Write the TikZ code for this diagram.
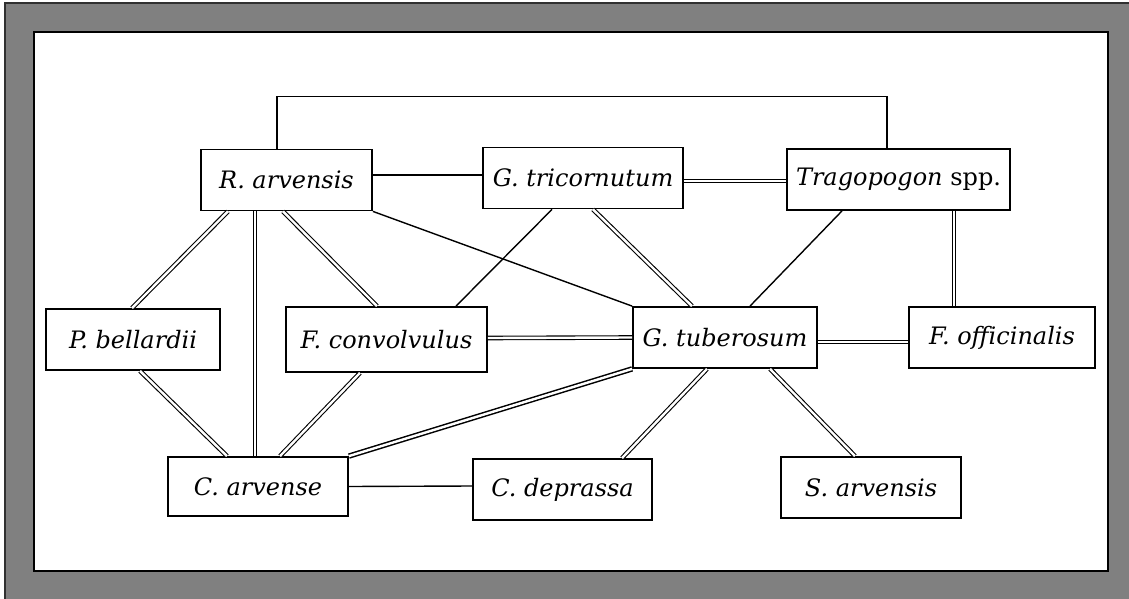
\documentclass[tikz,border=0pt]{standalone}
\usepackage{fontspec}
\setmainfont{DejaVu Serif}
\definecolor{framegray}{HTML}{808080}
\definecolor{frameedge}{HTML}{303030}

\begin{document}
\begin{tikzpicture}[
  x=0.5pt, y=-0.5pt,
  taxon/.style={rectangle, draw=black, line width=0.9pt, fill=white,
    minimum height=30.5pt, inner sep=0.5pt, font=\fontsize{12}{14}\selectfont},
  link/.style={line width=0.7pt},
  duallink/.style={double, double distance=1.2pt, line width=0.55pt}
]
\useasboundingbox (0,0) rectangle (1129,599);
% frame
\fill[framegray] (5,3) rectangle (1129,599);
\draw[frameedge, line width=1pt] (5,599) -- (5,3) -- (1129,3);
\draw[fill=white, line width=0.8pt] (34,32) rectangle (1108,571);

\node[taxon, minimum width=85.5pt] (ra) at (286.5,180) {\textit{R. arvensis}};
\node[taxon, minimum width=100pt] (gtc) at (583,178) {\textit{G. tricornutum}};
\node[taxon, minimum width=111.5pt] (tr) at (898.5,179.5) {\textit{Tragopogon} spp.};
\node[taxon, minimum width=87pt] (pb) at (133,339.5) {\textit{P. bellardii}};
\node[taxon, minimum width=100.5pt, minimum height=32.5pt] (fc) at (386.5,339.5) {\textit{F. convolvulus}};
\node[taxon, minimum width=92pt] (gtb) at (725,337.5) {\textit{G. tuberosum}};
\node[taxon, minimum width=93pt] (fo) at (1002,337.5) {\textit{F. officinalis}};
\node[taxon, minimum width=90pt, minimum height=29.5pt] (ca) at (258,486.5) {\textit{C. arvense}};
\node[taxon, minimum width=89.5pt] (cd) at (562.5,489.5) {\textit{C. deprassa}};
\node[taxon, minimum width=90pt] (sa) at (871,487.5) {\textit{S. arvensis}};

% single links
\draw[link] ([xshift=-4.75pt]ra.north) -- ++(0,-52) -| ([xshift=-5.75pt]tr.north);
\draw[link] ([yshift=2.5pt]ra.east) -- ([yshift=1.5pt]gtc.west);
\draw[link] (ra.south east) -- (gtb.north west);
\draw[link] ([xshift=-15.5pt]gtc.south) -- ([xshift=34.75pt]fc.north);
\draw[link] ([xshift=-28.25pt]tr.south) -- ([xshift=12.5pt]gtb.north);
\draw[link] (ca.east) -- ([yshift=1.75pt]cd.west);

% double links
\draw[duallink] ([yshift=-1.5pt]gtc.east) -- ([yshift=-0.75pt]tr.west);
\draw[duallink] ([xshift=-29.25pt]ra.south) -- ([xshift=-0.5pt]pb.north);
\draw[duallink] ([xshift=-15.75pt]ra.south) -- ([xshift=-1.5pt]ca.north);
\draw[duallink] ([xshift=-1.75pt]ra.south) -- ([xshift=-4.75pt]fc.north);
\draw[duallink] ([xshift=3.5pt]pb.south) -- ([xshift=-15.5pt]ca.north);
\draw[duallink] ([xshift=-13.25pt]fc.south) -- ([xshift=11pt]ca.north);
\draw[duallink] ([xshift=5pt]gtc.south) -- ([xshift=-16.5pt]gtb.north);
\draw[duallink] ([xshift=27.75pt]tr.south) -- ([xshift=-24pt]fo.north);
\draw[duallink] ([yshift=0.75pt]fc.east) -- (gtb.west);
\draw[duallink] ([yshift=-2.25pt]gtb.east) -- ([yshift=-2.25pt]fo.west);
\draw[duallink, line width=0.75pt] (gtb.south west) -- (ca.north east);
\draw[duallink] ([xshift=-9pt]gtb.south) -- ([xshift=29.75pt]cd.north);
\draw[duallink] ([xshift=22.5pt]gtb.south) -- ([xshift=-8pt]sa.north);
\end{tikzpicture}
\end{document}
